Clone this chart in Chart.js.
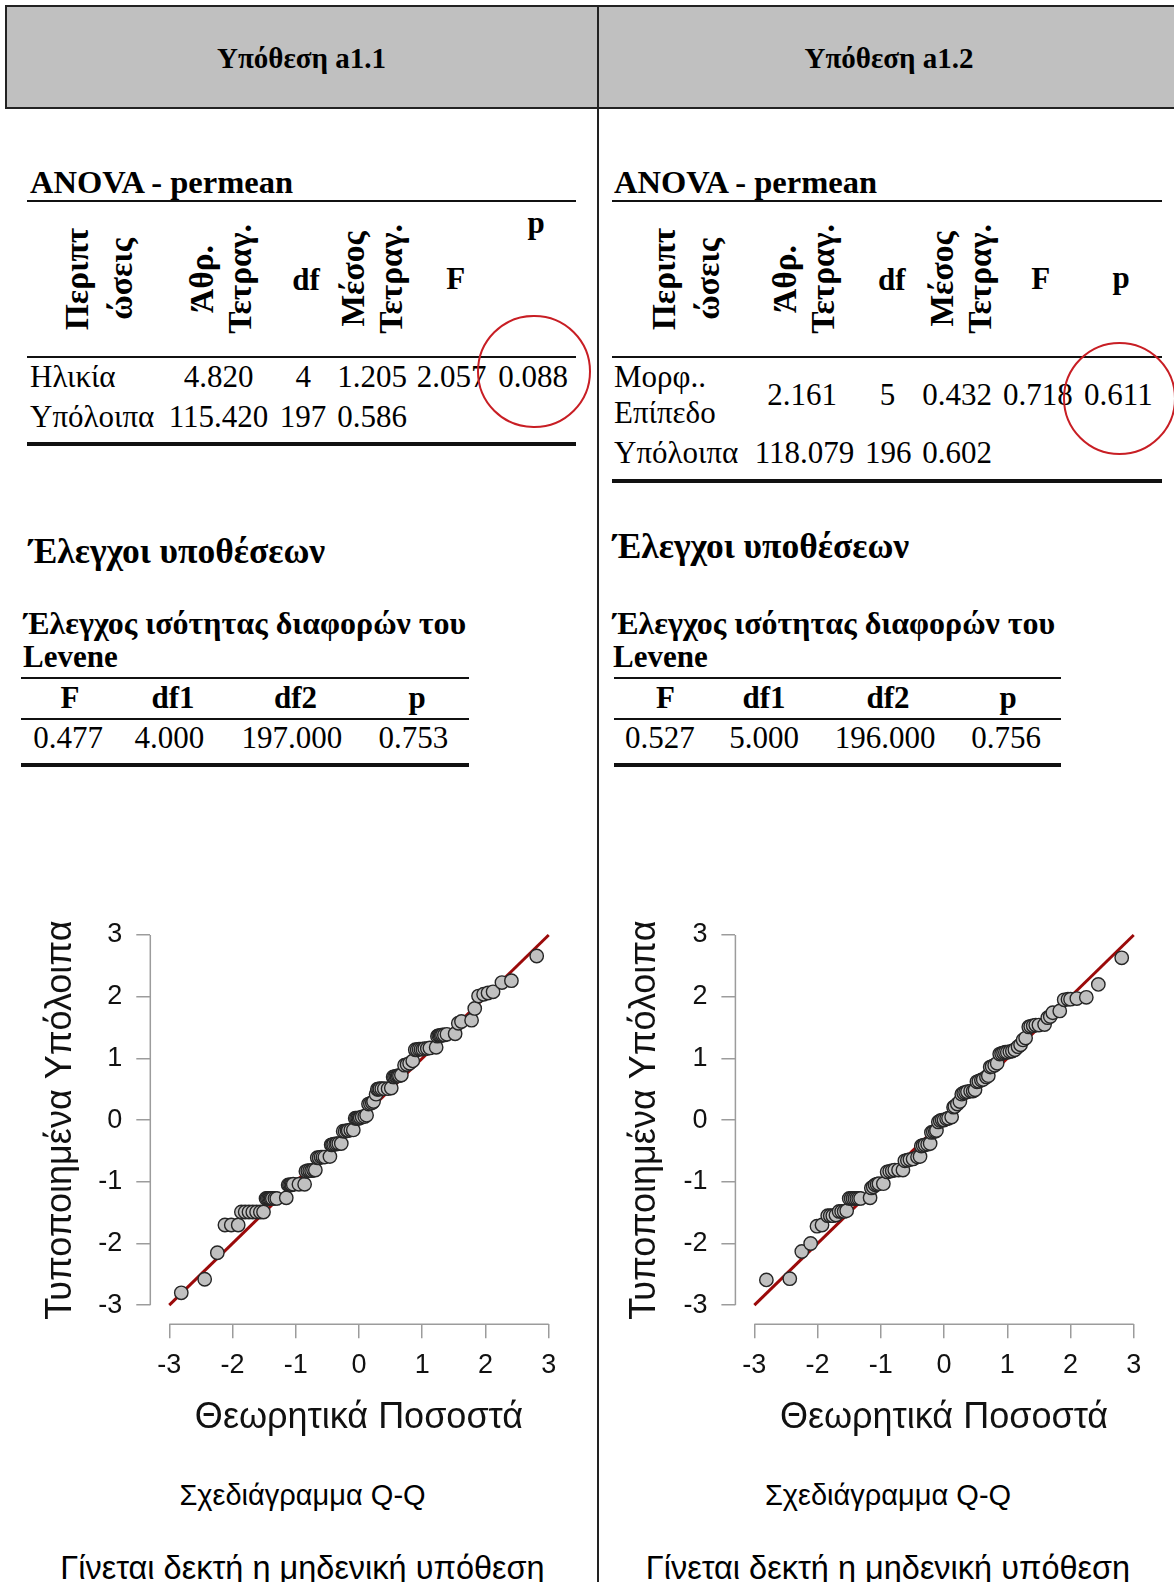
<!DOCTYPE html>
<html>
<head>
<meta charset="utf-8">
<script src="https://cdn.jsdelivr.net/npm/chart.js@4.4.1/dist/chart.umd.min.js"></script>
<style>
  html, body { margin: 0; padding: 0; }
  body { width: 1174px; height: 1582px; position: relative; overflow: hidden; background: #fff;
         font-family: "Liberation Serif", "Times New Roman", serif; color: #000; }
  .t { position: absolute; white-space: nowrap; line-height: 1; font-size: 31px; }
  .b { font-weight: bold; }
  .c { transform: translateX(-50%); }
  .sans { font-family: "Liberation Sans", Arial, sans-serif; }
  .rot { position: absolute; font-weight: bold; font-size: 33.5px; text-align: center; white-space: nowrap;
         transform: translate(-50%, -50%) rotate(-90deg); }
  .ln { position: absolute; background: #111; }
  .ring { position: absolute; border: 2px solid #c81e24; border-radius: 50%; box-sizing: border-box; }
  .head { position: absolute; top: 5px; height: 104px; background: #c0c0c0; border: 2px solid #222; box-sizing: border-box; }
  canvas { position: absolute; }
  #divider { position: absolute; left: 597px; top: 5px; width: 2px; height: 1577px; background: #222; z-index: 2; }
</style>
</head>
<body>

<div class="head" style="left:5px;width:594px"></div>
<div class="head" style="left:597px;width:600px"></div>
<div class="t b c" style="left:301.5px;top:44px;font-size:29px">Υπόθεση a1.1</div>
<div class="t b c" style="left:889px;top:44px;font-size:29px">Υπόθεση a1.2</div>

<!-- ANOVA a1.1 -->
<div class="t b" style="left:30px;top:165.5px;font-size:32.5px">ANOVA - permean</div>
<div class="ln" style="left:27px;top:200px;width:549px;height:2px"></div>
<div class="rot" style="left:99px;top:279px;line-height:44px">Περιπτ<br>ώσεις</div>
<div class="rot" style="left:221px;top:279px;line-height:38px">Άθρ.<br>Τετραγ.</div>
<div class="t b c" style="left:306px;top:264px">df</div>
<div class="rot" style="left:371.5px;top:279px;line-height:38px">Μέσος<br>Τετραγ.</div>
<div class="t b c" style="left:455.6px;top:263.3px">F</div>
<div class="t b c" style="left:536px;top:206.5px">p</div>
<div class="ln" style="left:27px;top:356px;width:549px;height:2px"></div>
<div class="t" style="left:30px;top:360.7px">Ηλικία</div>
<div class="t c" style="left:218.5px;top:360.7px">4.820</div>
<div class="t c" style="left:303.3px;top:360.7px">4</div>
<div class="t c" style="left:372.2px;top:360.7px">1.205</div>
<div class="t c" style="left:451.6px;top:360.7px">2.057</div>
<div class="t c" style="left:533px;top:360.7px">0.088</div>
<div class="t" style="left:30px;top:401.3px">Υπόλοιπα</div>
<div class="t c" style="left:218.5px;top:401.3px">115.420</div>
<div class="t c" style="left:303px;top:401.3px">197</div>
<div class="t c" style="left:372.2px;top:401.3px">0.586</div>
<div class="ln" style="left:27px;top:441.5px;width:549px;height:4px"></div>
<div class="ring" style="left:477px;top:314.7px;width:113.6px;height:113.6px"></div>

<!-- ANOVA a1.2 -->
<div class="t b" style="left:614px;top:165.5px;font-size:32.5px">ANOVA - permean</div>
<div class="ln" style="left:612px;top:200px;width:550px;height:2px"></div>
<div class="rot" style="left:686.4px;top:279px;line-height:44px">Περιπτ<br>ώσεις</div>
<div class="rot" style="left:804.4px;top:279px;line-height:38px">Άθρ.<br>Τετραγ.</div>
<div class="t b c" style="left:891.7px;top:264px">df</div>
<div class="rot" style="left:960.6px;top:279px;line-height:38px">Μέσος<br>Τετραγ.</div>
<div class="t b c" style="left:1040.6px;top:263.3px">F</div>
<div class="t b c" style="left:1121px;top:261.5px">p</div>
<div class="ln" style="left:612px;top:356px;width:550px;height:2px"></div>
<div class="t" style="left:614px;top:360.7px">Μορφ..</div>
<div class="t" style="left:614px;top:397.3px">Επίπεδο</div>
<div class="t c" style="left:802px;top:379px">2.161</div>
<div class="t c" style="left:887.6px;top:379px">5</div>
<div class="t c" style="left:957px;top:379px">0.432</div>
<div class="t c" style="left:1037.9px;top:379px">0.718</div>
<div class="t c" style="left:1118.4px;top:379px">0.611</div>
<div class="t" style="left:614px;top:437.3px">Υπόλοιπα</div>
<div class="t c" style="left:804.5px;top:437.3px">118.079</div>
<div class="t c" style="left:888.3px;top:437.3px">196</div>
<div class="t c" style="left:957px;top:437.3px">0.602</div>
<div class="ln" style="left:612px;top:479px;width:550px;height:4px"></div>
<div class="ring" style="left:1063px;top:341.6px;width:113.4px;height:113.4px"></div>

<!-- Levene a1.1 -->
<div class="t b" style="left:29px;top:533.6px;font-size:35.5px">Έλεγχοι υποθέσεων</div>
<div class="t b" style="left:24px;top:606.8px;font-size:32px">Έλεγχος ισότητας διαφορών του</div>
<div class="t b" style="left:23px;top:641.3px">Levene</div>
<div class="ln" style="left:21px;top:677px;width:448px;height:2px"></div>
<div class="t b c" style="left:70px;top:682.3px">F</div>
<div class="t b c" style="left:173px;top:682.3px">df1</div>
<div class="t b c" style="left:295.6px;top:682.3px">df2</div>
<div class="t b c" style="left:417px;top:682.3px">p</div>
<div class="ln" style="left:21px;top:718px;width:448px;height:2px"></div>
<div class="t c" style="left:68px;top:722.3px">0.477</div>
<div class="t c" style="left:169.4px;top:722.3px">4.000</div>
<div class="t c" style="left:291.8px;top:722.3px">197.000</div>
<div class="t c" style="left:413.3px;top:722.3px">0.753</div>
<div class="ln" style="left:21px;top:763px;width:448px;height:4px"></div>

<!-- Levene a1.2 -->
<div class="t b" style="left:613px;top:528.6px;font-size:35.5px">Έλεγχοι υποθέσεων</div>
<div class="t b" style="left:613px;top:606.8px;font-size:32px">Έλεγχος ισότητας διαφορών του</div>
<div class="t b" style="left:613px;top:640.7px">Levene</div>
<div class="ln" style="left:614px;top:676.5px;width:447px;height:2px"></div>
<div class="t b c" style="left:665.4px;top:682.3px">F</div>
<div class="t b c" style="left:764px;top:682.3px">df1</div>
<div class="t b c" style="left:888px;top:682.3px">df2</div>
<div class="t b c" style="left:1008px;top:682.3px">p</div>
<div class="ln" style="left:614px;top:717.5px;width:447px;height:2px"></div>
<div class="t c" style="left:659.9px;top:722.3px">0.527</div>
<div class="t c" style="left:764px;top:722.3px">5.000</div>
<div class="t c" style="left:885.2px;top:722.3px">196.000</div>
<div class="t c" style="left:1006.2px;top:722.3px">0.756</div>
<div class="ln" style="left:614px;top:762.5px;width:447px;height:4px"></div>

<!-- Q-Q plots -->
<canvas id="qqA" width="598" height="600" style="left:0;top:860px"></canvas>
<canvas id="qqB" width="574" height="600" style="left:600px;top:860px"></canvas>

<div class="t sans c" style="left:302.5px;top:1480.5px;font-size:29px">Σχεδιάγραμμα Q-Q</div>
<div class="t sans c" style="left:302.5px;top:1551.5px;font-size:32.5px">Γίνεται δεκτή η μηδενική υπόθεση</div>
<div class="t sans c" style="left:888px;top:1480.5px;font-size:29px">Σχεδιάγραμμα Q-Q</div>
<div class="t sans c" style="left:888px;top:1551.5px;font-size:32.5px">Γίνεται δεκτή η μηδενική υπόθεση</div>

<div id="divider"></div>

<script>
const tickValues = [-3, -2, -1, 0, 1, 2, 3];
const refLine = [-3, 3];

// Υπόθεση a1.1 (Ηλικία)
const theoreticalA = [
  -2.81, -2.44, -2.24,
  -2.12, -2.02, -1.91,
  -1.86, -1.80, -1.74, -1.68, -1.62, -1.56, -1.51,
  -1.47, -1.45, -1.43, -1.41, -1.39, -1.37, -1.33, -1.30, -1.15,
  -1.12, -1.10, -1.08, -1.06, -1.04, -0.95, -0.86,
  -0.84, -0.81, -0.78, -0.75, -0.72, -0.69,
  -0.66, -0.63, -0.60, -0.57, -0.54, -0.46,
  -0.44, -0.42, -0.40, -0.37, -0.35, -0.32, -0.28,
  -0.25, -0.22, -0.19, -0.17, -0.13, -0.09,
  -0.06, -0.04, -0.02, 0.00, 0.02, 0.05, 0.09, 0.12,
  0.15, 0.18, 0.21, 0.23,
  0.27,
  0.29, 0.31, 0.33, 0.36, 0.40, 0.46, 0.51,
  0.54, 0.56, 0.58, 0.60, 0.62, 0.64, 0.67,
  0.72, 0.76, 0.80, 0.85,
  0.89, 0.92, 0.95, 0.98, 1.01, 1.04, 1.08, 1.12, 1.22,
  1.24, 1.26, 1.28, 1.30, 1.32, 1.35, 1.39, 1.52,
  1.57, 1.62, 1.78,
  1.83,
  1.89, 1.97, 2.04, 2.12,
  2.26, 2.41,
  2.81
];
const residualsA = [
  -2.80, -2.58, -2.15,
  -1.70, -1.70, -1.70,
  -1.49, -1.49, -1.49, -1.49, -1.49, -1.49, -1.49,
  -1.27, -1.27, -1.27, -1.27, -1.27, -1.27, -1.27, -1.27, -1.26,
  -1.05, -1.05, -1.05, -1.05, -1.04, -1.04, -1.04,
  -0.83, -0.82, -0.82, -0.82, -0.81, -0.81,
  -0.61, -0.61, -0.60, -0.60, -0.60, -0.59,
  -0.40, -0.40, -0.39, -0.39, -0.38, -0.38, -0.38,
  -0.18, -0.18, -0.17, -0.17, -0.16, -0.16,
  0.03, 0.03, 0.03, 0.03, 0.04, 0.05, 0.06, 0.08,
  0.26, 0.27, 0.28, 0.30,
  0.42,
  0.50, 0.50, 0.51, 0.51, 0.51, 0.51, 0.52,
  0.70, 0.70, 0.71, 0.71, 0.72, 0.72, 0.73,
  0.89, 0.90, 0.92, 0.96,
  1.14, 1.14, 1.15, 1.15, 1.15, 1.16, 1.16, 1.17, 1.18,
  1.36, 1.37, 1.37, 1.37, 1.38, 1.38, 1.39, 1.40,
  1.57, 1.60, 1.62,
  1.81,
  2.01, 2.04, 2.06, 2.08,
  2.23, 2.26,
  2.66
];

// Υπόθεση a1.2 (Μορφωτικό επίπεδο)
const theoreticalB = [
  -2.81, -2.44, -2.25, -2.11,
  -2.01, -1.93,
  -1.84, -1.80, -1.76, -1.71,
  -1.66, -1.62, -1.58, -1.54,
  -1.50, -1.47, -1.44, -1.41, -1.38, -1.35, -1.32, -1.17,
  -1.15, -1.12, -1.09, -1.06, -1.03, -0.96,
  -0.90, -0.86, -0.82, -0.78, -0.72, -0.65,
  -0.62, -0.58, -0.54, -0.49, -0.42, -0.38,
  -0.36, -0.33, -0.30, -0.26, -0.22,
  -0.20, -0.17, -0.14, -0.12,
  -0.09, -0.06, -0.03, 0.00, 0.04, 0.07, 0.12,
  0.15, 0.17, 0.21, 0.25,
  0.28, 0.31, 0.34, 0.37, 0.42, 0.46, 0.49,
  0.52, 0.55, 0.59, 0.62, 0.67, 0.70,
  0.73, 0.76, 0.80, 0.84,
  0.88, 0.91, 0.94, 0.97, 1.00, 1.04, 1.08, 1.12,
  1.17, 1.21, 1.25, 1.29,
  1.34, 1.37, 1.41, 1.45, 1.50, 1.59,
  1.64, 1.68, 1.72, 1.83,
  1.90, 1.96, 2.00, 2.10, 2.25,
  2.44, 2.81
];
const residualsB = [
  -2.59, -2.57, -2.13, -2.00,
  -1.72, -1.70,
  -1.55, -1.55, -1.55, -1.54,
  -1.48, -1.48, -1.48, -1.47,
  -1.27, -1.27, -1.27, -1.27, -1.27, -1.27, -1.27, -1.26,
  -1.10, -1.08, -1.05, -1.04, -1.03, -1.03,
  -0.84, -0.83, -0.82, -0.81, -0.81, -0.81,
  -0.66, -0.65, -0.64, -0.63, -0.60, -0.59,
  -0.42, -0.41, -0.40, -0.39, -0.38,
  -0.20, -0.19, -0.18, -0.17,
  -0.03, -0.01, 0.00, 0.00, 0.02, 0.03, 0.05,
  0.21, 0.22, 0.26, 0.30,
  0.42, 0.44, 0.45, 0.46, 0.47, 0.47, 0.49,
  0.62, 0.63, 0.65, 0.66, 0.70, 0.72,
  0.86, 0.87, 0.89, 0.92,
  1.07, 1.08, 1.09, 1.10, 1.10, 1.11, 1.12, 1.14,
  1.19, 1.22, 1.30, 1.33,
  1.51, 1.52, 1.53, 1.54, 1.54, 1.55,
  1.66, 1.68, 1.74, 1.77,
  1.95, 1.96, 1.96, 1.97, 1.99,
  2.20, 2.63
];

const sansFont = '"Liberation Sans", Arial, sans-serif';
const axisColor = "#9c9c9c";

// R-style axis lines that stop at the first and last tick
const rAxisLines = {
  id: "rAxisLines",
  afterDraw(chart) {
    const { ctx } = chart;
    const x = chart.scales.x;
    const y = chart.scales.y;
    const first = tickValues[0];
    const last = tickValues[tickValues.length - 1];
    ctx.save();
    ctx.strokeStyle = axisColor;
    ctx.lineWidth = 1.5;
    ctx.beginPath();
    ctx.moveTo(x.getPixelForValue(first), x.top);
    ctx.lineTo(x.getPixelForValue(last), x.top);
    ctx.moveTo(y.right, y.getPixelForValue(first));
    ctx.lineTo(y.right, y.getPixelForValue(last));
    ctx.stroke();
    ctx.restore();
  },
};

function drawQQ(canvasId, theoretical, residuals, yAxisWidth, rightPad, yTitlePad) {
  const points = theoretical.map((x, i) => ({ x: x, y: residuals[i] }));
  const ctx = document.getElementById(canvasId).getContext("2d");

  return new Chart(ctx, {
    type: "scatter",
    data: {
      datasets: [
        {
          data: points,
          pointRadius: 6.7,
          pointBackgroundColor: "#c0c0c0",
          pointBorderColor: "#262626",
          pointBorderWidth: 1.4,
          order: 0,
        },
        {
          data: refLine.map((v) => ({ x: v, y: v })),
          showLine: true,
          borderColor: "#9b0a0a",
          borderWidth: 3,
          pointRadius: 0,
          order: 1,
        },
      ],
    },
    options: {
      responsive: false,
      animation: false,
      events: [],
      layout: { padding: { top: 55.9, right: rightPad, bottom: 0, left: 0 } },
      plugins: {
        legend: { display: false },
        tooltip: { enabled: false },
      },
      scales: {
        x: {
          type: "linear",
          min: -3.3,
          max: 3.3,
          afterBuildTicks: (scale) => {
            scale.ticks = tickValues.map((v) => ({ value: v }));
          },
          afterFit: (scale) => {
            scale.height = 135.7;
          },
          grid: { drawOnChartArea: false, tickLength: 14, color: axisColor, lineWidth: 1.5 },
          border: { display: false },
          ticks: {
            color: "#111",
            font: { family: sansFont, size: 27 },
            padding: 11,
            autoSkip: false,
            maxRotation: 0,
          },
          title: {
            display: true,
            text: "Θεωρητικά Ποσοστά",
            color: "#111",
            font: { family: sansFont, size: 36 },
            padding: { top: 0, bottom: 20.4 },
          },
        },
        y: {
          type: "linear",
          min: -3.31,
          max: 3.31,
          afterBuildTicks: (scale) => {
            scale.ticks = tickValues.map((v) => ({ value: v }));
          },
          afterFit: (scale) => {
            scale.width = yAxisWidth;
          },
          grid: { drawOnChartArea: false, tickLength: 14, color: axisColor, lineWidth: 1.5 },
          border: { display: false },
          ticks: {
            color: "#111",
            font: { family: sansFont, size: 27 },
            padding: 14,
            autoSkip: false,
          },
          title: {
            display: true,
            text: "Τυποποιημένα Υπόλοιπα",
            color: "#111",
            font: { family: sansFont, size: 36 },
            padding: { top: yTitlePad, bottom: 0 },
          },
        },
      },
    },
    plugins: [rAxisLines],
  });
}

drawQQ("qqA", theoreticalA, residualsA, 150.3, 30.3, 39.7);
drawQQ("qqB", theoreticalB, residualsB, 135.4, 21.3, 23.9);
</script>
</body>
</html>
